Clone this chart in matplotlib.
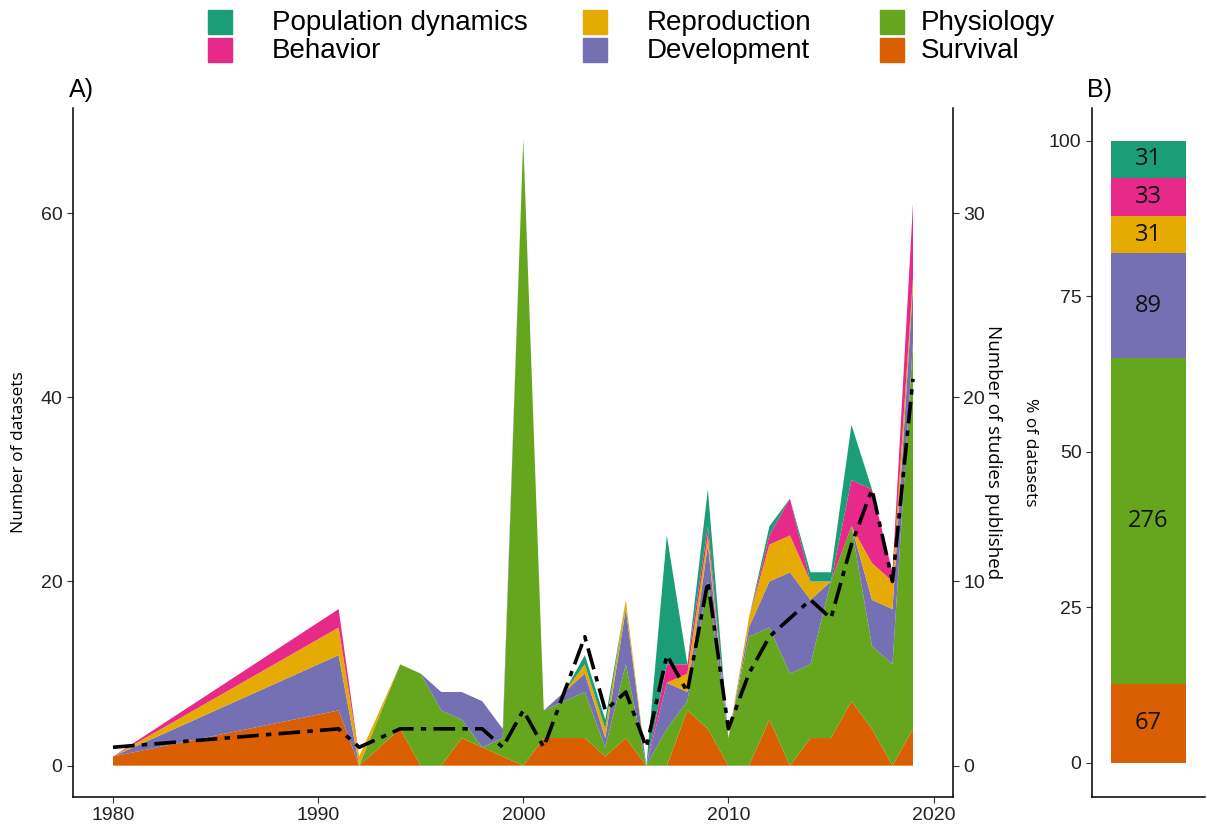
import numpy as np
import matplotlib
matplotlib.use("Agg")
import matplotlib.pyplot as plt
from matplotlib.patches import Rectangle

# data
years = [1980, 1991, 1992, 1994, 1995, 1996, 1997, 1998, 1999, 2000,
         2001, 2002, 2003, 2004, 2005, 2006, 2007, 2008, 2009, 2010,
         2011, 2012, 2013, 2014, 2015, 2016, 2017, 2018, 2019]
survival = [1, 6, 0, 4, 0, 0, 3, 2, 1, 0,
            3, 3, 3, 1, 3, 0, 0, 6, 4, 0,
            0, 5, 0, 3, 3, 7, 4, 0, 4]
physiology = [0, 0, 0, 7, 10, 6, 2, 0, 2, 68,
              3, 4, 5, 1, 8, 0, 4, 1, 16, 3,
              14, 10, 10, 8, 17, 19, 9, 11, 42]
development = [0, 6, 0, 0, 0, 2, 3, 5, 1, 0,
               0, 1, 2, 1, 6, 0, 5, 1, 4, 0,
               1, 5, 11, 7, 0, 0, 5, 6, 6]
reproduction = [0, 3, 1, 0, 0, 0, 0, 0, 0, 0,
                0, 0, 1, 1, 1, 0, 0, 2, 1, 0,
                1, 4, 4, 2, 0, 0, 4, 3, 1]
behavior = [0, 2, 0, 0, 0, 0, 0, 0, 0, 0,
            0, 0, 0, 0, 0, 0, 2, 1, 1, 0,
            0, 1, 4, 0, 0, 5, 8, 1, 8]
popdyn = [0, 0, 0, 0, 0, 0, 0, 0, 0, 0,
          0, 0, 1, 1, 0, 0, 14, 0, 4, 0,
          0, 1, 0, 1, 1, 6, 0, 0, 0]
studies = [1, 2, 1, 2, 2, 2, 2, 2, 1, 3,
           1, 4, 7, 3, 4, 1, 6, 4, 10, 2,
           5, 7, 8, 9, 8, 12, 15, 10, 21]

categories = ["Survival", "Physiology", "Development", "Reproduction",
              "Behavior", "Population dynamics"]
colors = ["#D95F02", "#66A61E", "#7570B3", "#E6AB02", "#E7298A", "#1B9E77"]
totals = [67, 276, 89, 31, 33, 31]

W, H = 1207, 825
fig = plt.figure(figsize=(W / 100, H / 100), dpi=100)
plt.rcParams["font.family"] = ["Liberation Sans", "DejaVu Sans"]


def px(l, b, r, t):
    return [l / W, 1 - b / H, (r - l) / W, (b - t) / H]


# panel A
ax = fig.add_axes(px(73, 797, 953, 108))
series = [survival, physiology, development, reproduction, behavior, popdyn]
ax.stackplot(years, *series, colors=colors, linewidth=0)
ax.set_xlim(1978.05, 2020.95)
ax.set_ylim(-3.4, 71.4)
ax.set_xticks([1980, 1990, 2000, 2010, 2020])
ax.set_yticks([0, 20, 40, 60])
ax.tick_params(labelsize=14, length=4, color="#333333", labelcolor="#222222")
for s in ["top", "right"]:
    ax.spines[s].set_visible(False)
ax.spines["left"].set_linewidth(1.1)
ax.spines["bottom"].set_linewidth(1.1)
ax.set_ylabel("Number of datasets", fontsize=12.5, family="Open Sans",
              labelpad=10)
ax.set_title("A)", loc="left", fontsize=18, x=-0.005, pad=8)

ax2 = ax.twinx()
ax2.plot(years, studies, color="black", lw=2.6, dashes=(6, 2, 1.5, 2))
ax2.set_ylim(-1.7, 35.7)
ax2.set_yticks([0, 10, 20, 30])
ax2.tick_params(labelsize=14, length=4, color="#333333", labelcolor="#222222")
ax2.spines["top"].set_visible(False)
ax2.spines["left"].set_visible(False)
ax2.spines["bottom"].set_visible(False)
ax2.spines["right"].set_linewidth(1.1)
ax2.set_ylabel("Number of studies published", fontsize=13.5, family="Open Sans",
               rotation=-90, labelpad=12)

# panel B
axb = fig.add_axes(px(1092, 797, 1205, 108))
pct = np.array(totals) / np.sum(totals) * 100
bottom = 0
for v, n, c in zip(pct, totals, colors):
    axb.bar(1, v, bottom=bottom, width=0.8, color=c)
    axb.text(1, bottom + v / 2, str(n), ha="center", va="center",
             fontsize=17, family="Open Sans", color="#111111")
    bottom += v
axb.set_xlim(0.4, 1.6)
axb.set_ylim(-5.5, 105.3)
axb.set_xticks([])
axb.set_yticks([0, 25, 50, 75, 100])
axb.tick_params(labelsize=14, length=4, color="#333333", labelcolor="#222222")
for s in ["top", "right"]:
    axb.spines[s].set_visible(False)
axb.spines["left"].set_linewidth(1.1)
axb.spines["bottom"].set_linewidth(1.1)
axb.set_ylabel("% of datasets", fontsize=12.5, family="Open Sans",
               rotation=-90, labelpad=16)
axb.yaxis.set_label_coords(-0.62, 0.5)
axb.set_title("B)", loc="left", fontsize=18, x=-0.045, pad=8)

# legend
leg_order = [(5, 208, 22), (4, 208, 50), (3, 583, 22), (2, 583, 50),
             (1, 880, 22), (0, 880, 50)]
for i, x0, y0 in leg_order:
    fig.patches.append(Rectangle((x0 / W, 1 - (y0 + 12) / H), 24 / W, 24 / H,
                                 transform=fig.transFigure, color=colors[i]))
    tx = x0 + 64 if x0 < 800 else x0 + 41
    fig.text(tx / W, 1 - (y0 + 1) / H, categories[i], fontsize=20, va="center",
             ha="left", color="black")

fig.savefig("out.png", dpi=100)
